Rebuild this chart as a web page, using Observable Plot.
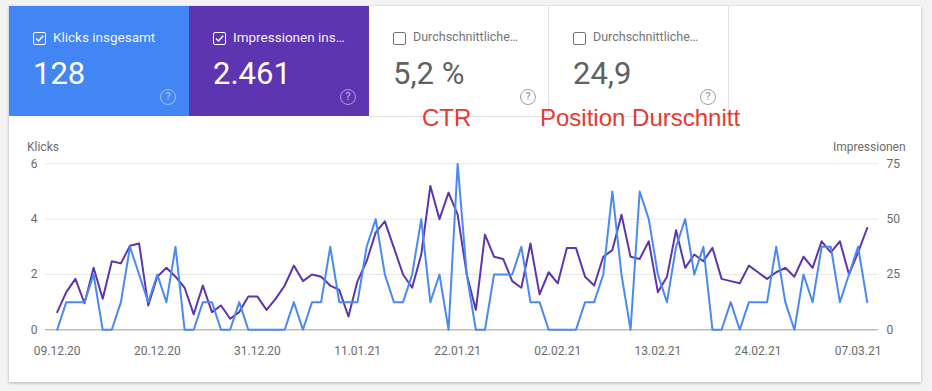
<!DOCTYPE html>
<html>
<head>
<meta charset="utf-8">
<script src="https://cdn.jsdelivr.net/npm/d3@7"></script>
<script src="https://cdn.jsdelivr.net/npm/@observablehq/plot@0.6"></script>
<style>
  html, body { margin: 0; padding: 0; }
  body { width: 932px; height: 391px; background: #f3f3f3; position: relative; overflow: hidden; font-family: Roboto, "Noto Sans", sans-serif; }
  .abs { position: absolute; }
  #panel { left: 9px; top: 6px; width: 912px; height: 376px; background: #fff; box-shadow: 0 1px 3px rgba(0,0,0,0.28); }
  .card { top: 6px; height: 110px; width: 180px; }
  .lbl { font-size: 13.5px; line-height: 1; white-space: nowrap; }
  .num { font-size: 31px; line-height: 1; white-space: nowrap; }
  .cb { width: 11px; height: 11px; border-radius: 2px; }
  .help { width: 14px; height: 14px; border-radius: 50%; font-size: 10.5px; line-height: 14px; text-align: center; font-weight: 500; }
  .red { font-family: "Liberation Sans", Arial, sans-serif; font-size: 24px; line-height: 1; color: #e8392f; white-space: nowrap; }
  .axlab { font-size: 12px; line-height: 1; color: #6b6b6b; white-space: nowrap; }
  #chart { left: 0; top: 130px; }
</style>
</head>
<body>
<div id="panel" class="abs"></div>
<div id="cards"></div>
<div id="chart" class="abs"></div>
<script>
// ---- Data ----
const startDate = "2020-12-09";
const clicks = [
  0,1,1,1,2,0,0,1,3,2,1,2,1,3,0,0,1,1,0,0,1,0,0,0,0,0,1,0,1,
  1,3,1,1,1,3,4,2,1,1,2,4,1,2,0,6,2,0,0,2,2,2,3,1,1,0,0,0,0,1,1,
  2,5,2,0,5,4,2,1,3,4,2,3,0,0,1,0,1,1,1,3,1,0,2,1,3,3,1,2,3,1
];
const impressions = [
  8,17,23,12,28,14,31,30,38,39,11,24,28,24,19,7,20,8,11,5,8,15,15,9,14,20,29,22,25,
  24,20,18,6,22,31,44,49,37,25,19,34,65,50,62,52,25,9,43,33,32,22,19,39,16,26,21,37,37,24,20,
  33,36,52,33,32,40,17,24,45,28,34,31,37,23,22,21,29,26,23,26,28,24,33,28,40,35,40,25,35,46
];
const xTickLabels = ["09.12.20","20.12.20","31.12.20","11.01.21","22.01.21","02.02.21","13.02.21","24.02.21","07.03.21"];
const clickTicks = [0, 2, 4, 6];
const imprTicks = [0, 25, 50, 75];

const cardTitles = ["Klicks insgesamt", "Impressionen ins\u2026", "Durchschnittliche\u2026", "Durchschnittliche\u2026"];
const cardValues = ["128", "2.461", "5,2 %", "24,9"];
const cardSelected = [true, true, false, false];
const cardColors = ["#4285f4", "#5e35b1", "#ffffff", "#ffffff"];
const annotations = ["CTR", "Position Durschnitt"];

// ---- Header cards ----
const cards = document.getElementById("cards");
function el(cls, style, text) {
  const d = document.createElement("div");
  d.className = "abs " + cls;
  Object.assign(d.style, style);
  if (text != null) d.textContent = text;
  cards.appendChild(d);
  return d;
}
const cardLeft = [9, 189, 369, 549];
cardTitles.forEach((t, i) => {
  const L = cardLeft[i];
  const sel = cardSelected[i];
  el("card", {left: L + "px", background: cardColors[i],
    borderRight: sel ? "none" : "1px solid #e0e0e0",
    borderBottom: sel ? "none" : "1px solid #e0e0e0",
    boxSizing: "border-box", height: sel ? "110px" : "111px"});
  const cb = el("cb", {left: (L + 24) + "px", top: "32px", border: "1.5px solid " + (sel ? "#ffffff" : "#757575")});
  if (sel) {
    cb.innerHTML = '<svg width="11" height="11" viewBox="0 0 11 11" style="display:block"><path d="M2 5.6 L4.5 8 L9.2 2.8" fill="none" stroke="#fff" stroke-width="1.4"/></svg>';
  }
  el("lbl", {left: (L + 44) + "px", top: "31px", color: sel ? "rgba(255,255,255,0.95)" : "#757575", fontSize: sel ? "13.5px" : "12.5px"}, t);
  el("num", {left: (L + 24) + "px", top: "58px", color: sel ? "#ffffff" : "#616161"}, cardValues[i]);
  el("help", {left: (L + 151) + "px", top: "88.5px",
    border: "1.3px solid " + (sel ? "rgba(255,255,255,0.5)" : "#9e9e9e"),
    color: sel ? "rgba(255,255,255,0.55)" : "#9e9e9e"}, "?");
});
el("red", {left: "422px", top: "105.5px"}, annotations[0]);
el("red", {left: "540px", top: "105.5px"}, annotations[1]);
el("axlab", {left: "27px", top: "141px"}, "Klicks");
el("axlab", {left: "833px", top: "141px"}, "Impressionen");

// ---- Chart ----
const day0 = d3.utcParse("%Y-%m-%d")(startDate);
const data = clicks.map((c, i) => ({date: d3.utcDay.offset(day0, i), clicks: c, impr: impressions[i]}));
const parseTick = d3.utcParse("%d.%m.%y");
const xTicks = xTickLabels.map(parseTick);
const ratio = imprTicks[imprTicks.length - 1] / clickTicks[clickTicks.length - 1];

const chart = Plot.plot({
  width: 932,
  height: 250,
  marginTop: 33.3,
  marginBottom: 50.7,
  marginLeft: 45,
  marginRight: 54,
  style: {fontFamily: "Roboto, sans-serif", fontSize: "12px", color: "#6b6b6b", background: "transparent", overflow: "visible"},
  x: {type: "utc", domain: [data[0].date, data[data.length - 1].date], insetLeft: 11.7, insetRight: 11.3},
  y: {domain: [0, 6]},
  marks: [
    Plot.gridY(clickTicks.slice(1), {stroke: "#e6e6e6", strokeOpacity: 1}),
    Plot.ruleY([0], {stroke: "#9a9a9a", strokeWidth: 1}),
    Plot.axisY(clickTicks, {anchor: "left", tickSize: 0, tickPadding: 8, label: null}),
    Plot.axisY(clickTicks, {anchor: "right", tickSize: 0, tickPadding: 8, label: null,
      tickFormat: d => String(imprTicks[clickTicks.indexOf(d)])}),
    Plot.axisX(xTicks, {tickSize: 0, tickPadding: 17, label: null,
      tickFormat: d => xTickLabels[xTicks.findIndex(t => +t === +d)]}),
    Plot.line(data, {x: "date", y: d => d.impr / ratio, stroke: "#5e35b1", strokeWidth: 2, curve: "linear"}),
    Plot.line(data, {x: "date", y: "clicks", stroke: "#4a89f3", strokeWidth: 2, curve: "linear"})
  ]
});
document.getElementById("chart").appendChild(chart);
</script>
</body>
</html>
